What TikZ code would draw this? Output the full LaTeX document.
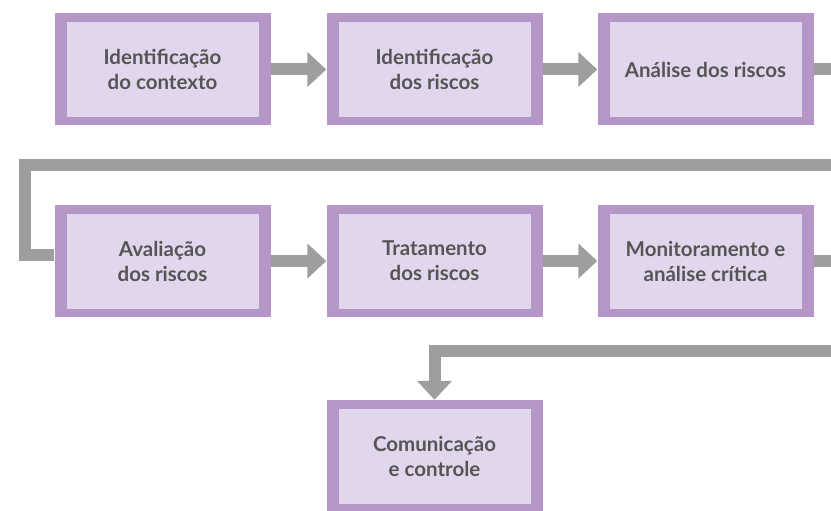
\documentclass[tikz,border=0pt]{standalone}
\usepackage{fontspec}
\setmainfont{Lato}
\usetikzlibrary{arrows.meta,calc}
\definecolor{boxedge}{RGB}{180,151,199}
\definecolor{boxfill}{RGB}{226,214,236}
\definecolor{flowgray}{RGB}{158,158,158}
\definecolor{txtgray}{RGB}{85,85,85}
\tikzset{>={Triangle[width=34pt,length=19pt]}}
\tikzset{
  stage/.style={rectangle,fill=boxedge,minimum width=216pt,minimum height=112pt,
    inner sep=0pt,align=center,text=txtgray,font=\bfseries\fontsize{20.5}{25}\selectfont,
    path picture={\fill[boxfill] ([shift={(12pt,-8.5pt)}]path picture bounding box.north west)
      rectangle ([shift={(-12pt,8.5pt)}]path picture bounding box.south east);}},
  flow/.style={draw=flowgray,line width=12pt}
}

\begin{document}
\begin{tikzpicture}[x=1pt,y=-1pt]
  \useasboundingbox (0,0) rectangle (831,511);

  % Stages
  \node[stage] (ctx) at (162.5,69.5) {Identificação\\do contexto};
  \node[stage] (idr) at (434.5,69.5) {Identificação\\dos riscos};
  \node[stage] (ana) at (705.5,69.5) {Análise dos riscos};
  \node[stage] (ava) at (162.5,261) {Avaliação\\dos riscos};
  \node[stage] (trat) at (434.5,261) {Tratamento\\dos riscos};
  \node[stage] (mon) at (705.5,261) {Monitoramento e\\análise crítica};
  \node[stage] (com) at (434.5,456) {Comunicação\\e controle};

  % Edge points
  \coordinate (e1) at (831,69.5);
  \coordinate (e2) at (831,165);
  \coordinate (k1) at (24.5,165);
  \coordinate (k2) at (24.5,255);
  \coordinate (e3) at (831,261);
  \coordinate (e4) at (831,350.5);

  % Flow
  \draw[flow,->] (ctx) -- (idr);
  \draw[flow,->] (idr) -- (ana);
  \draw[flow] (ana) -- (e1);
  \draw[flow] (e2) -- (k1) -- (k2) -- (k2 -| ava.west);
  \draw[flow,->] (ava) -- (trat);
  \draw[flow,->] (trat) -- (mon);
  \draw[flow] (mon) -- (e3);
  \draw[flow,->] (e4) -| (com.north);
\end{tikzpicture}
\end{document}
